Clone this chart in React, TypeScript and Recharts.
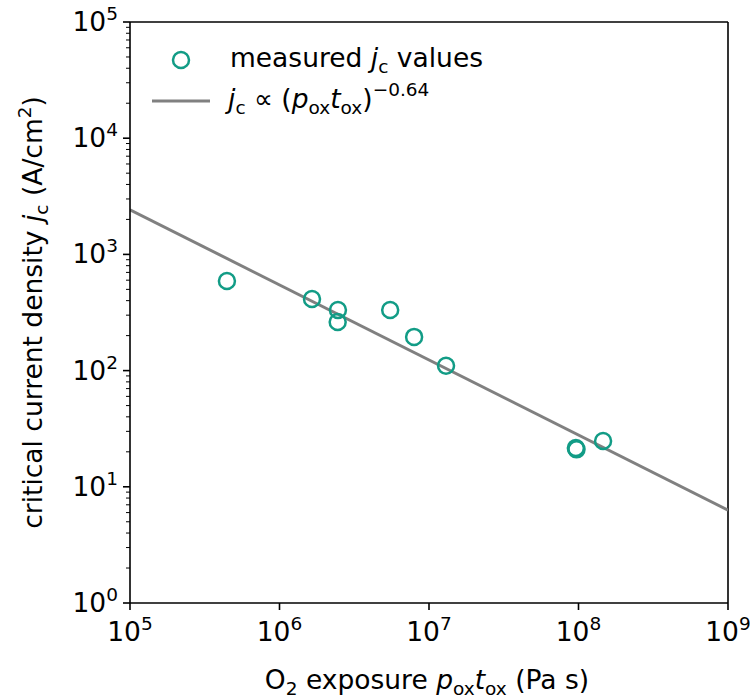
import { ComposedChart, Line, ReferenceLine, Scatter, XAxis, YAxis } from "recharts";

// measured critical current density vs O2 exposure
const exposure = [4.45e5, 1.65e6, 2.46e6, 2.45e6, 5.5e6, 7.95e6, 1.3e7, 9.6e7, 9.7e7, 1.46e8];
const jcMeasured = [590, 413, 332, 262, 332, 195, 110, 21.6, 21.0, 24.8];

// power-law fit jc ~ (p t)^-0.64, end points
const fitExposure = [1e5, 1e9];
const fitJc = [2420, 6.3];

const xTicks = [1e5, 1e6, 1e7, 1e8, 1e9];
const yMajorTicks = [1, 10, 100, 1000, 10000, 100000];
const yMinorFactors = [2, 3, 4, 5, 6, 7, 8, 9];

const points = exposure.map((x, i) => ({ x, y: jcMeasured[i] }));
const fit = fitExposure.map((x, i) => ({ x, y: fitJc[i] }));
const yTicks = [
  ...yMajorTicks,
  ...yMajorTicks.slice(0, -1).flatMap((m) => yMinorFactors.map((f) => m * f)),
].sort((a, b) => a - b);

const TEAL = "#129c86";
const GREY = "#808080";
const FONT = "DejaVu Sans";
const FS = 26.5; // main text size
const SS = 18.5; // sub/superscript size

const isMajor = (v: number) => Math.abs(Math.log10(v) - Math.round(Math.log10(v))) < 1e-9;

function XTick({ x, y, payload }: any) {
  const exp = Math.round(Math.log10(payload.value));
  return (
    <g>
      <line x1={x} x2={x} y1={y} y2={y + 7} stroke="#000" strokeWidth={1.6} />
      <text x={x} y={y + 38} textAnchor="middle" fontSize={FS} fontFamily={FONT} fill="#000">
        <tspan>10</tspan>
        <tspan dy={-11} fontSize={SS}>{exp}</tspan>
      </text>
    </g>
  );
}

function YTick({ x, y, payload }: any) {
  const v = payload.value;
  if (!isMajor(v)) {
    return <line x1={x - 4} x2={x} y1={y} y2={y} stroke="#000" strokeWidth={1} />;
  }
  const exp = Math.round(Math.log10(v));
  return (
    <g>
      <line x1={x - 7} x2={x} y1={y} y2={y} stroke="#000" strokeWidth={1.6} />
      <text x={x - 12} y={y + 9} textAnchor="end" fontSize={FS} fontFamily={FONT} fill="#000">
        <tspan>10</tspan>
        <tspan dy={-11} fontSize={SS}>{exp}</tspan>
      </text>
    </g>
  );
}

function Ring({ cx, cy }: any) {
  return <circle cx={cx} cy={cy} r={8} fill="none" stroke={TEAL} strokeWidth={2.5} />;
}

function XLabel({ viewBox }: any) {
  const cx = viewBox.x + viewBox.width / 2 - 2;
  return (
    <text x={cx} y={689} textAnchor="middle" fontSize={FS} fontFamily={FONT} fill="#000">
      <tspan>O</tspan>
      <tspan dy={6} fontSize={SS}>2</tspan>
      <tspan dy={-6}> exposure </tspan>
      <tspan fontStyle="italic">p</tspan>
      <tspan dy={6} fontSize={SS}>ox</tspan>
      <tspan dy={-6} fontStyle="italic">t</tspan>
      <tspan dy={6} fontSize={SS}>ox</tspan>
      <tspan dy={-6}> (Pa s)</tspan>
    </text>
  );
}

function YLabel({ viewBox }: any) {
  const cx = 42;
  const cy = viewBox.y + viewBox.height / 2;
  return (
    <text
      x={cx}
      y={cy}
      transform={`rotate(-90, ${cx}, ${cy})`}
      textAnchor="middle"
      fontSize={FS}
      fontFamily={FONT}
      fill="#000"
    >
      <tspan>critical current density </tspan>
      <tspan fontStyle="italic">j</tspan>
      <tspan dy={6} fontSize={SS}>c</tspan>
      <tspan dy={-6}> (A/cm</tspan>
      <tspan dy={-11} fontSize={SS}>2</tspan>
      <tspan dy={11}>)</tspan>
    </text>
  );
}

function LegendBox() {
  return (
    <svg
      width={750}
      height={698}
      style={{ position: "absolute", left: 0, top: 0, pointerEvents: "none" }}
    >
      <circle cx={181} cy={60} r={8} fill="none" stroke={TEAL} strokeWidth={2.5} />
      <text x={230} y={67} fontSize={FS} fontFamily={FONT} fill="#000">
        <tspan>measured </tspan>
        <tspan fontStyle="italic">j</tspan>
        <tspan dy={6} fontSize={SS}>c</tspan>
        <tspan dy={-6}> values</tspan>
      </text>
      <line x1={152} x2={210} y1={101} y2={101} stroke={GREY} strokeWidth={3} />
      <text x={228} y={108} fontSize={FS} fontFamily={FONT} fill="#000">
        <tspan fontStyle="italic">j</tspan>
        <tspan dy={6} fontSize={SS}>c</tspan>
        <tspan dy={-6}> ∝ (</tspan>
        <tspan fontStyle="italic">p</tspan>
        <tspan dy={6} fontSize={SS}>ox</tspan>
        <tspan dy={-6} fontStyle="italic">t</tspan>
        <tspan dy={6} fontSize={SS}>ox</tspan>
        <tspan dy={-6}>)</tspan>
        <tspan dy={-12} fontSize={SS}>−0.64</tspan>
      </text>
    </svg>
  );
}

export default function App() {
  return (
    <div
      style={{
        position: "absolute",
        left: 0,
        top: 0,
        width: 750,
        height: 698,
        background: "#fff",
        fontFamily: FONT,
      }}
    >
      <ComposedChart width={750} height={698} margin={{ top: 22, right: 22, bottom: 0, left: 0 }}>
        <XAxis
          dataKey="x"
          type="number"
          scale="log"
          domain={[1e5, 1e9]}
          ticks={xTicks}
          interval={0}
          allowDataOverflow
          height={95}
          tickSize={0}
          tickMargin={0}
          tick={<XTick />}
          axisLine={{ stroke: "#000", strokeWidth: 1.6 }}
          label={<XLabel />}
        />
        <YAxis
          type="number"
          scale="log"
          domain={[1, 1e5]}
          ticks={yTicks}
          interval={0}
          allowDataOverflow
          width={130}
          tickSize={0}
          tickMargin={0}
          tick={<YTick />}
          axisLine={{ stroke: "#000", strokeWidth: 1.6 }}
          label={<YLabel />}
        />
        {/* top and right spines */}
        <ReferenceLine y={1e5} stroke="#000" strokeWidth={1.6} />
        <ReferenceLine x={1e9} stroke="#000" strokeWidth={1.6} />
        <Line
          data={fit}
          dataKey="y"
          type="linear"
          stroke={GREY}
          strokeWidth={3}
          dot={false}
          activeDot={false}
          isAnimationActive={false}
        />
        <Scatter data={points} dataKey="y" shape={<Ring />} isAnimationActive={false} />
      </ComposedChart>
      <LegendBox />
    </div>
  );
}
